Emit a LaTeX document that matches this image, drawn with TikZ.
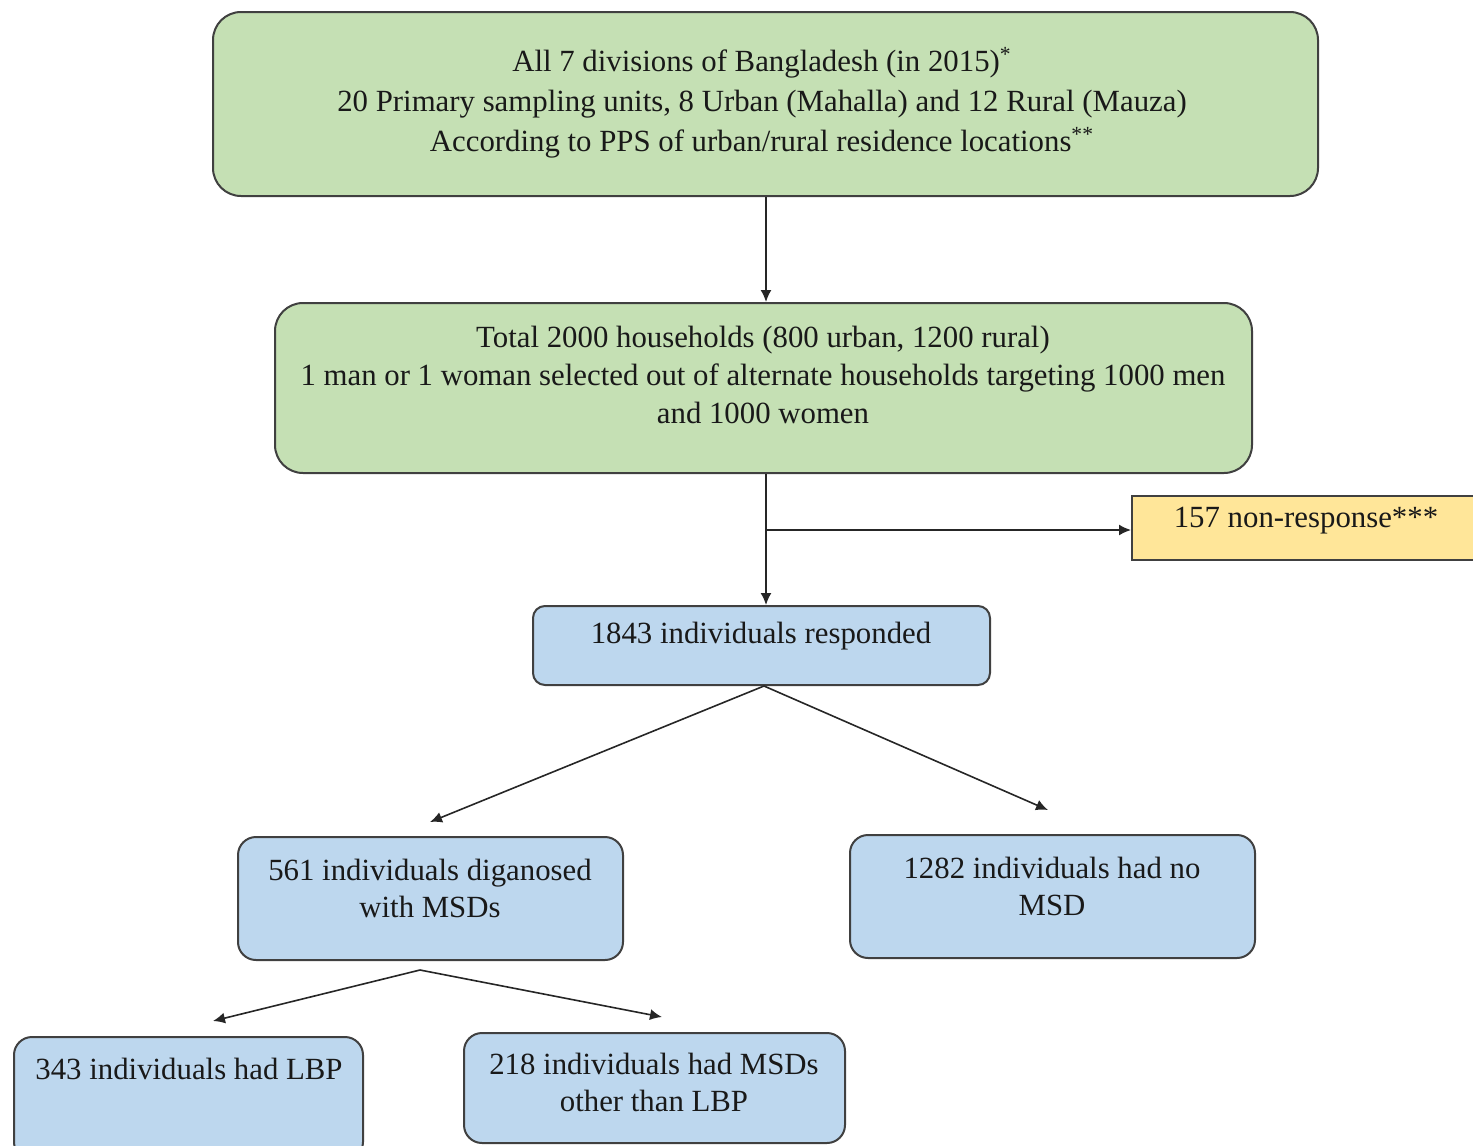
\documentclass[tikz,border=0pt]{standalone}
\usepackage{fontspec}
\setmainfont{Liberation Serif}
\usetikzlibrary{arrows.meta}
\definecolor{gfill}{HTML}{C5E0B4}
\definecolor{bfill}{HTML}{BDD7EE}
\definecolor{yfill}{HTML}{FFE699}
\definecolor{edge}{HTML}{404040}
\tikzset{
  greenbox/.style={draw=edge, line width=1pt, fill=gfill, rounded corners=14pt, inner sep=0pt},
  bluebox/.style={draw=edge, line width=1pt, fill=bfill, rounded corners=9pt, inner sep=0pt},
  yellowbox/.style={draw=edge, line width=1pt, fill=yfill, inner sep=0pt},
  txt/.style={align=center, inner sep=0pt, font=\fontsize{15.4}{20}\selectfont, text=black!90},
  btxt/.style={align=center, inner sep=0pt, font=\fontsize{15.4}{18.5}\selectfont, text=black!90},
  conn/.style={draw=black!85, line width=0.8pt, -{Latex[length=6pt,width=5.5pt]}},
  plain/.style={draw=black!85, line width=0.8pt}
}
\begin{document}
\begin{tikzpicture}[x=0.5pt,y=-0.5pt]
\useasboundingbox (0,0) rectangle (1473,1146);
\clip (0,0) rectangle (1473,1146);
% boxes
\node[greenbox, minimum width=552.5pt, minimum height=92pt] (top) at (765.5,104) {};
\node[greenbox, minimum width=488.5pt, minimum height=85pt] (hh) at (763.5,388) {};
\node[yellowbox, minimum width=179pt, minimum height=32pt] (nr) at (1311,528) {};
\node[bluebox, rounded corners=6pt, minimum width=228.5pt, minimum height=39.5pt] (resp) at (761.5,645.5) {};
\node[bluebox, minimum width=192.5pt, minimum height=61.5pt] (msd) at (430.5,898.5) {};
\node[bluebox, minimum width=202.5pt, minimum height=61.5pt] (nomsd) at (1052.5,896.5) {};
\node[bluebox, minimum width=174.5pt, minimum height=61.5pt] (lbp) at (188.5,1098.5) {};
\node[bluebox, minimum width=190.5pt, minimum height=55pt] (other) at (654.5,1088) {};
% texts
\node[txt] (ttop) at (762,103) {All 7 divisions of Bangladesh (in 2015)\textsuperscript{*}\\
20 Primary sampling units, 8 Urban (Mahalla) and 12 Rural (Mauza)\\
According to PPS of urban/rural residence locations\textsuperscript{**}};
\node[btxt, font=\fontsize{15.4}{19}\selectfont] (thh) at (763,375) {Total 2000 households (800 urban, 1200 rural)\\
1 man or 1 woman selected out of alternate households targeting 1000 men\\
and 1000 women};
\node[btxt] (tnr) at (1306,521) {157 non-response***};
\node[btxt] (tresp) at (761,636) {1843 individuals responded};
\node[btxt] (tmsd) at (430,888) {561 individuals diganosed\\ with MSDs};
\node[btxt] (tnomsd) at (1052,886.5) {1282 individuals had no\\ MSD};
\node[btxt] (tlbp) at (189,1069) {343 individuals had LBP};
\node[btxt] (tother) at (654,1082) {218 individuals had MSDs\\ other than LBP};
% connectors
\coordinate (br) at (766,530);
\coordinate (a4) at (430,822);
\coordinate (a5) at (1048,810);
\coordinate (s4) at (420,970);
\coordinate (a6) at (213,1021);
\coordinate (a7) at (662,1017);
\draw[conn] ([xshift=0.25pt]top.south) -- ([xshift=0.25pt]top.south |- hh.north);
\draw[conn] ([xshift=1.25pt]hh.south) -- ([xshift=1.25pt]hh.south |- resp.north);
\draw[conn] (br) -- (br -| nr.west);
\draw[conn] ([xshift=1.25pt]resp.south) -- (a4);
\draw[conn] ([xshift=1.25pt]resp.south) -- (a5);
\draw[conn] (s4) -- (a6);
\draw[conn] (s4) -- (a7);
\end{tikzpicture}
\end{document}
